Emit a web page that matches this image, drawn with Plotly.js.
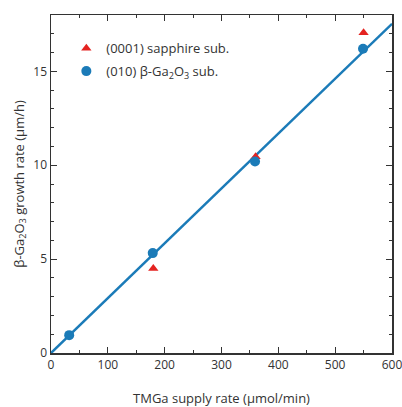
<!DOCTYPE html>
<html>
<head>
<meta charset="utf-8">
<script src="https://cdn.plot.ly/plotly-3.0.1.min.js"></script>
<style>html,body{margin:0;padding:0;background:#fff}#chart{width:402px;height:407px}</style>
</head>
<body>
<div id="chart"></div>
<script>
// TMGa supply rate (µmol/min) vs growth rate (µm/h)
const sapphireX = [180, 360, 550];
const sapphireY = [4.5, 10.45, 17.05];
const ga2o3X = [32, 179, 359, 549];
const ga2o3Y = [0.95, 5.32, 10.2, 16.2];
const fitRangeX = [0, 600];
const xTicks = [0, 100, 200, 300, 400, 500, 600];
const yTicks = [0, 5, 10, 15];

// least-squares line through the origin for the β-Ga2O3 substrate series
let sxy = 0, sxx = 0;
for (let i = 0; i < ga2o3X.length; i++) { sxy += ga2o3X[i] * ga2o3Y[i]; sxx += ga2o3X[i] * ga2o3X[i]; }
const slope = sxy / sxx;
const fitY = fitRangeX.map(x => slope * x);

const ink = '#333333';
const traces = [
  {x: fitRangeX, y: fitY, mode: 'lines', line: {color: '#1b7bb8', width: 2.5}, showlegend: false, hoverinfo: 'skip'},
  {x: sapphireX, y: sapphireY, mode: 'markers', name: '(0001) sapphire sub.', legendgroup: 'a',
   marker: {symbol: 'triangle-up', color: '#e42320', size: 9}},
  {x: ga2o3X, y: ga2o3Y, mode: 'markers', name: '(010) β-Ga<sub>2</sub>O<sub>3</sub> sub.', legendgroup: 'b',
   marker: {color: '#1b7bb8', size: 10}}
];

const axisCommon = {
  showgrid: false, zeroline: false, showline: true, linecolor: ink, linewidth: 1.5,
  mirror: 'ticks', ticks: 'inside', ticklen: 6, tickwidth: 1.2, tickcolor: ink,
  ticklabeloverflow: 'allow',
  tickfont: {family: 'Open Sans, sans-serif', size: 12, color: ink}
};

const layout = {
  width: 402, height: 407,
  margin: {l: 51, r: 10, t: 15, b: 54},
  paper_bgcolor: '#fff', plot_bgcolor: '#fff',
  font: {family: 'Open Sans, sans-serif', color: ink},
  xaxis: Object.assign({}, axisCommon, {
    range: [0, 600], tickmode: 'array', tickvals: xTicks, ticktext: xTicks.map(String),
    minor: {dtick: 50, tick0: 0, ticks: 'inside', ticklen: 3, tickcolor: ink, tickwidth: 1},
    title: {text: 'TMGa supply rate (µmol/min)', font: {size: 13, color: ink}, standoff: 27}
  }),
  yaxis: Object.assign({}, axisCommon, {
    range: [0, 18], tickmode: 'array', tickvals: yTicks, ticktext: yTicks.map(String),
    minor: {dtick: 1, tick0: 0, ticks: 'inside', ticklen: 3, tickcolor: ink, tickwidth: 1},
    title: {text: 'β-Ga<sub>2</sub>O<sub>3</sub> growth rate (µm/h)', font: {size: 13, color: ink}, standoff: 6}
  }),
  legend: {x: 0.045, y: 0.946, xanchor: 'left', yanchor: 'top', bgcolor: 'rgba(0,0,0,0)',
           font: {size: 13, color: ink}, itemwidth: 30, tracegroupgap: 3},
  showlegend: true
};

Plotly.newPlot('chart', traces, layout, {displayModeBar: false, staticPlot: true});
</script>
</body>
</html>
